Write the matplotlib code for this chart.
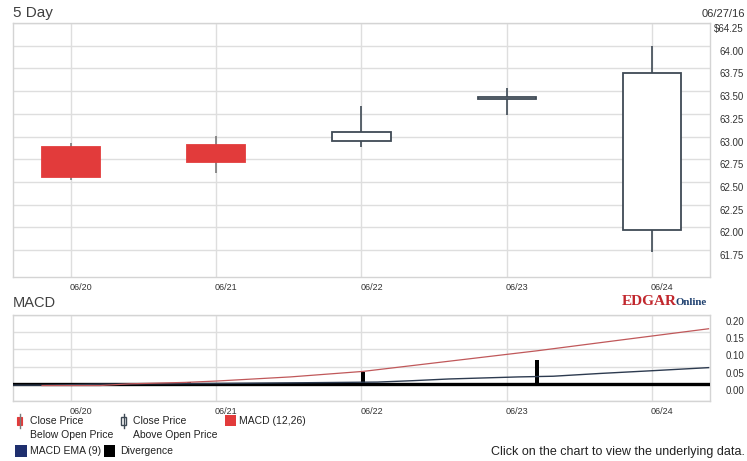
import matplotlib
matplotlib.use("Agg")
import numpy as np
import matplotlib.pyplot as plt
import matplotlib.transforms as mtransforms
from matplotlib.patches import Rectangle

plt.rcParams["font.family"] = ["Liberation Sans", "DejaVu Sans"]

# daily OHLC for the five sessions
dates = ["06/20", "06/21", "06/22", "06/23", "06/24"]
opens = [62.89, 62.91, 62.95, 63.41, 61.97]
closes = [62.56, 62.72, 63.05, 63.44, 63.70]
highs = [62.93, 63.01, 63.34, 63.53, 64.00]
lows = [62.52, 62.60, 62.89, 63.24, 61.73]

price_ticks = [61.75, 62.00, 62.25, 62.50, 62.75, 63.00, 63.25, 63.50, 63.75, 64.00, 64.25]
macd_ticks = [0.00, 0.05, 0.10, 0.15, 0.20]

# MACD (12,26), signal EMA (9) and divergence, positions in session units
macd_x = [-0.20, 0.20, 0.41, 0.78, 1.00, 1.51, 2.01, 2.61, 3.21, 3.78, 4.39]
macd_vals = [-0.005, -0.005, 0.000, 0.004, 0.008, 0.020, 0.036, 0.066, 0.096, 0.127, 0.160]
ema_x = [-0.40, -0.20, 0.20, 1.00, 1.58, 2.11, 2.35, 2.60, 2.84, 3.08, 3.32, 3.64, 4.00, 4.39]
ema_vals = [-0.004, -0.004, -0.001, 0.001, 0.003, 0.005, 0.009, 0.014, 0.017, 0.020, 0.022, 0.030, 0.038, 0.047]
div_x = [0.81, 2.01, 3.21]
div_vals = [0.004, 0.033, 0.070]

W, H = 747, 461
RED = "#e23b3b"
EDGE = "#3f4a55"
GRID = "#dedede"
TXT = "#333333"


def px_rect(left, top, right, bottom):
    return [left / W, 1 - bottom / H, (right - left) / W, (bottom - top) / H]


fig = plt.figure(figsize=(W / 100, H / 100), dpi=100)
ax_p = fig.add_axes(px_rect(13, 23, 710, 277))
ax_m = fig.add_axes(px_rect(13, 315, 710, 401))

x = np.arange(len(dates))
for ax in (ax_p, ax_m):
    ax.set_xlim(-0.4, 4.4)
    ax.set_xticks(x)
    ax.tick_params(length=0, labelleft=False, labelbottom=False)
    ax.grid(color=GRID, lw=1, zorder=0)
    for sp in ax.spines.values():
        sp.set_color("#d4d4d4")
        sp.set_linewidth(1)

# price candles
ax_p.set_ylim(61.455, 64.25)
ax_p.set_yticks(price_ticks)
o = np.array(opens)
c = np.array(closes)
rising = c >= o
wick_cols = [EDGE if r else "#7a7a7a" for r in rising]
ax_p.vlines(x, lows, highs, colors=wick_cols, lw=1.2, zorder=2)
ax_p.bar(x, np.abs(c - o), bottom=np.minimum(o, c), width=0.4,
         color=["white" if r else RED for r in rising],
         edgecolor=[EDGE if r else RED for r in rising], lw=1.3, zorder=3)

# MACD panel
ax_m.set_ylim(-0.05, 0.20)
ax_m.set_yticks([-0.05] + macd_ticks)
ax_m.axhline(0, color="black", lw=2.4, zorder=3)
ax_m.bar(div_x, div_vals, width=0.03, color="black", zorder=3)
ax_m.plot(ema_x, ema_vals, color="#2d3b50", lw=1.0, zorder=4)
ax_m.plot(macd_x, macd_vals, color="#c0585a", lw=0.9, zorder=4)


# axis labels drawn as text so they can sit just below the gridlines
def right_labels(ax, ticks, fmts, dy):
    tr = mtransforms.offset_copy(ax.get_yaxis_transform(), fig=fig, x=34, y=-dy, units="dots")
    for t, f in zip(ticks, fmts):
        ax.text(1, t, f.format(t), transform=tr, ha="right", va="center", fontsize=7, color=TXT)


def date_labels(ax, dy):
    tr = mtransforms.offset_copy(ax.get_xaxis_transform(), fig=fig, x=10, y=-dy, units="dots")
    for xi, d in zip(x, dates):
        ax.text(xi, 0, d, transform=tr, ha="center", va="center", fontsize=6.5, color=TXT)


price_fmt = ["{:.2f}"] * (len(price_ticks) - 1) + ["${:.2f}"]
right_labels(ax_p, price_ticks, price_fmt, 6)
right_labels(ax_m, macd_ticks, ["{:.2f}"] * len(macd_ticks), 7)
date_labels(ax_p, 10)
date_labels(ax_m, 10)

# overlay in pixel units for titles, logo and legend
ov = fig.add_axes([0, 0, 1, 1])
ov.set_xlim(0, W)
ov.set_ylim(H, 0)
ov.axis("off")
ov.patch.set_alpha(0)

ov.text(13, 13, "5 Day", fontsize=11, color="#404040", ha="left", va="center")
ov.text(745, 14, "06/27/16", fontsize=8, color=TXT, ha="right", va="center")
ov.text(13, 303, "MACD", fontsize=10.5, color="#404040", ha="left", va="center")
ov.text(622, 305, "EDGAR", fontsize=11, color="#c1272d", fontweight="bold",
        family="Liberation Serif", ha="left", va="baseline")
ov.text(676, 305, "Online", fontsize=7.8, color="#1d3f6e", fontweight="bold",
        family="Liberation Serif", ha="left", va="baseline")

# legend
ov.plot([19.5, 19.5], [414, 428], color="#7a7a7a", lw=1)
ov.add_patch(Rectangle((17, 416.5), 5, 8, facecolor=RED, edgecolor=RED, lw=0.8))
ov.plot([123.5, 123.5], [414, 428], color=EDGE, lw=1)
ov.add_patch(Rectangle((121, 416.5), 5, 8, facecolor="white", edgecolor=EDGE, lw=1))
ov.add_patch(Rectangle((225, 415), 11, 11, facecolor=RED, edgecolor="none"))
ov.add_patch(Rectangle((15, 444.5), 12, 12, facecolor="#1f2f6e", edgecolor="none"))
ov.add_patch(Rectangle((104, 444.5), 11, 12, facecolor="black", edgecolor="none"))
legend_items = [
    (30, 421, "Close Price"), (133, 421, "Close Price"), (239, 421, "MACD (12,26)"),
    (30, 435, "Below Open Price"), (133, 435, "Above Open Price"),
    (30, 451, "MACD EMA (9)"), (120, 451, "Divergence"),
]
for lx, ly, s in legend_items:
    ov.text(lx, ly, s, fontsize=7.5, color="#222222", ha="left", va="center")

ov.text(745, 452, "Click on the chart to view the underlying data.", fontsize=9,
        color="#222222", ha="right", va="center")

fig.savefig("out.png", dpi=100)
